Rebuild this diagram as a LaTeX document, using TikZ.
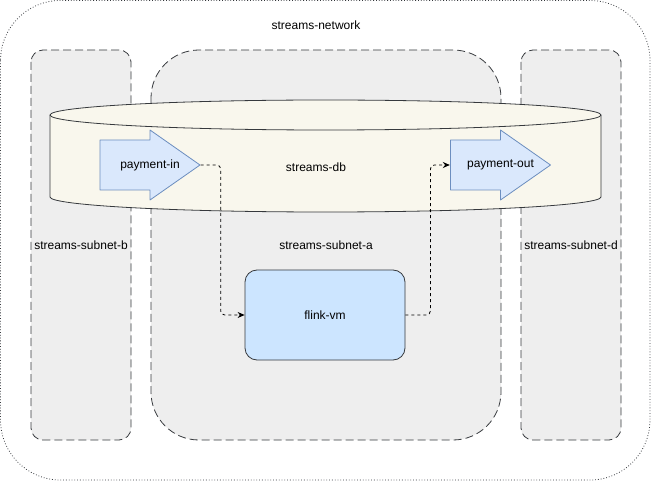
\documentclass[tikz,border=0pt]{standalone}
\usepackage{fontspec}
\setmainfont{Liberation Sans}
\usetikzlibrary{arrows.meta}
\definecolor{netgray}{HTML}{36393D}
\definecolor{subnetfill}{HTML}{EEEEEE}
\definecolor{dbfill}{HTML}{F9F7ED}
\definecolor{topicfill}{HTML}{DAE8FC}
\definecolor{topicline}{HTML}{6C8EBF}
\definecolor{vmfill}{HTML}{CCE5FF}

\tikzset{
  subnet/.style={draw=netgray,fill=subnetfill,dash pattern=on 8pt off 4pt,line width=0.8pt},
  topic/.style={minimum width=101pt,minimum height=71pt,inner sep=0pt,
    path picture={
      \filldraw[draw=topicline,fill=topicfill,line width=0.8pt,line join=round]
        ([shift={(0.5pt,-10.5pt)}]path picture bounding box.north west)
        -- ([yshift=-10.5pt]path picture bounding box.north)
        -- ([yshift=-0.5pt]path picture bounding box.north)
        -- ([xshift=-0.5pt]path picture bounding box.east)
        -- ([yshift=0.5pt]path picture bounding box.south)
        -- ([yshift=10.5pt]path picture bounding box.south)
        -- ([shift={(0.5pt,10.5pt)}]path picture bounding box.south west)
        -- cycle;}},
  vmbox/.style={draw=netgray,fill=vmfill,line width=0.8pt,rounded corners=12pt,
    minimum width=160pt,minimum height=90pt},
  flow/.style={draw=black,line width=0.8pt,dash pattern=on 3pt off 3pt,
    rounded corners=4pt,-{Stealth[length=7pt,width=6pt]}}
}
\tikzstyle{every node}=[color=black,font=\fontsize{12}{14}\selectfont]

\begin{document}
\begin{tikzpicture}[x=1pt,y=-1pt]
    \useasboundingbox (0,0) rectangle (651,481);
    % network
    \draw[netgray,line width=0.8pt,dotted,rounded corners=60pt] (0.5,0.5) rectangle (650,480);
    \node (net) at (316,25) {streams-network};
    % subnets
    \draw[subnet,rounded corners=12pt] (31,50) rectangle (131,440);
    \draw[subnet,rounded corners=48pt] (151,50) rectangle (501,440);
    \draw[subnet,rounded corners=12pt] (521,50) rectangle (621,440);
    \node (subb) at (81,245) {streams-subnet-b};
    \node (suba) at (326,245) {streams-subnet-a};
    \node (subd) at (571,245) {streams-subnet-d};
    % database
    \filldraw[draw=netgray,fill=dbfill,line width=0.8pt] (50,115) -- (50,197)
      arc[start angle=180,end angle=360,x radius=275.5pt,y radius=15pt] -- (601,115)
      arc[start angle=0,end angle=180,x radius=275.5pt,y radius=15pt] -- cycle;
    \draw[netgray,line width=0.8pt] (50,115)
      arc[start angle=180,end angle=360,x radius=275.5pt,y radius=15pt];
    \node (db) at (316,167) {streams-db};
    % topics and vm
    \node[topic] (pin) at (150,165) {payment-in};
    \node[topic] (pout) at (500.5,165) {payment-out};
    \node[vmbox] (vm) at (325,315) {flink-vm};
    \draw[flow] (pin.east) -- ++(20,0) |- (vm.west);
    \draw[flow] (vm.east) -- ++(25,0) |- (pout.west);
\end{tikzpicture}
\end{document}
